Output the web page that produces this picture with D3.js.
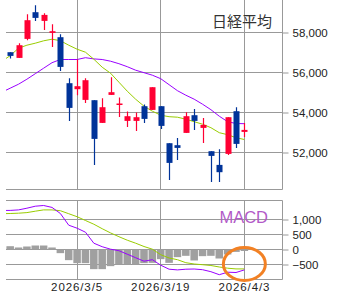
<!DOCTYPE html>
<html>
<head>
<meta charset="utf-8">
<script src="https://cdn.jsdelivr.net/npm/d3@7"></script>
<style>
body { margin: 0; background: #fff; }
</style>
</head>
<body>
<svg width="338" height="297"></svg>
<script>
// trading days (first one is only used by the moving lines, it sits left of the plot)
const dates = ["2026/2/19","2026/2/20","2026/2/24","2026/2/25","2026/2/26","2026/2/27","2026/3/2","2026/3/3","2026/3/4",
    "2026/3/5","2026/3/6","2026/3/9","2026/3/10","2026/3/11","2026/3/12","2026/3/13","2026/3/16","2026/3/17","2026/3/18",
    "2026/3/19","2026/3/23","2026/3/24","2026/3/25","2026/3/26","2026/3/27","2026/3/30","2026/3/31","2026/4/1","2026/4/2","2026/4/3"];
const openVals  = [null,57015,56730,57680,59015,58580,57980,57765,55465,55165,54630,54615,53480,54880,54380,53580,53580,54315,54130,54315,52465,52365,52980,53865,53230,52065,51380,51930,54065,53030];
const highVals  = [null,57015,57465,58915,59365,58965,58415,57915,55715,56650,55715,54615,54715,55765,54750,54050,54000,54400,55265,54315,52465,52730,54015,54180,53730,52065,52165,53765,54265,53480];
const lowVals   = [null,56700,56730,57615,58580,58130,57280,56080,53580,54865,54480,51380,53480,54880,53780,53280,53080,53480,54130,53180,50630,51630,52980,53130,52480,50530,50530,51880,52230,52780];
const closeVals = [null,56830,57365,58615,58730,58880,58065,56280,54230,55315,55615,52680,54265,55015,54450,53815,53765,53680,55265,53330,51480,52230,53815,53580,53380,51830,51015,53765,52430,53130];
const ma5  = [56565,56840,57215,57365,57465,57585,57665,57590,57365,57165,57015,56665,56265,55965,55515,55065,54665,54315,54065,53865,53790,53765,53665,53540,53415,53240,52990,52890,52740,52650];
const ma25 = [55015,55215,55415,55665,55940,56215,56490,56650,56650,56650,56740,56680,56650,56565,56440,56290,56115,55990,55865,55690,55390,55090,54865,54665,54415,54140,53815,53540,53450,53440];
const macd   = [1300,1303,1320,1377,1443,1467,1403,1200,810,710,577,210,93,10,-40,-157,-273,-390,-340,-523,-657,-680,-657,-650,-673,-740,-840,-757,-767,-680];
const signal = [1193,1200,1210,1230,1277,1320,1320,1293,1193,1093,967,843,693,553,427,310,210,100,10,-173,-283,-340,-440,-483,-507,-533,-583,-623,-647,-647];
const hist   = [110,110,67,100,133,133,67,-122,-355,-455,-455,-655,-655,-555,-500,-500,-500,-455,-445,-322,-445,-255,-211,-366,-222,-211,-300,-166,-80,-50];
const priceTicks = [58000, 56000, 54000, 52000];
const macdTicks = [1000, 500, 0, -500];
const dateTicks = ["2026/3/5", "2026/3/19", "2026/4/3"];

const left = 6, right = 282;
const mainTop = 0, mainBottom = 189.5;
const subTop = 200.5, subBottom = 279.5;
const gridColor = "#999";
const upColor = "#ff0033", downColor = "#003399";

const svg = d3.select("svg");

// x: one slot per trading day, index 0 = 2/19
const xscale = d3.scaleLinear().domain([0.5, 33.5]).range([left, right]);
const yscale = d3.scaleLinear().domain([58000, 52000]).range([32.5, 152.5]);
const mscale = d3.scaleLinear().domain([1000, -500]).range([219.5, 264.5]);
const slot = xscale(1) - xscale(0);

const data = dates.map((d, i) => ({
    i: i, date: d, open: openVals[i], high: highVals[i], low: lowVals[i], close: closeVals[i],
    ma5: ma5[i], ma25: ma25[i], macd: macd[i], signal: signal[i], hist: hist[i]
}));
const candles = data.filter(d => d.open != null);

//Clip areas
const defs = svg.append("defs");
defs.append("clipPath").attr("id", "clipMain").append("rect")
    .attr("x", left).attr("y", mainTop).attr("width", right - left).attr("height", mainBottom - mainTop);
defs.append("clipPath").attr("id", "clipSub").append("rect")
    .attr("x", left).attr("y", subTop).attr("width", right - left).attr("height", subBottom - subTop);

//Grid
const grid = svg.append("g").attr("stroke", gridColor).attr("stroke-width", 1);
priceTicks.forEach(v => grid.append("line")
    .attr("x1", left).attr("x2", right).attr("y1", yscale(v)).attr("y2", yscale(v)));
grid.append("line").attr("x1", left).attr("x2", right + 0.5).attr("y1", mainBottom).attr("y2", mainBottom);
macdTicks.forEach(v => grid.append("line")
    .attr("x1", left).attr("x2", right).attr("y1", mscale(v)).attr("y2", mscale(v)));
grid.append("line").attr("x1", left).attr("x2", right + 0.5).attr("y1", subTop).attr("y2", subTop);
grid.append("line").attr("x1", left).attr("x2", right + 0.5).attr("y1", subBottom).attr("y2", subBottom);
dateTicks.forEach(d => {
    const x = Math.floor(xscale(dates.indexOf(d))) + 0.5;
    grid.append("line").attr("x1", x).attr("x2", x).attr("y1", mainTop).attr("y2", mainBottom);
    grid.append("line").attr("x1", x).attr("x2", x).attr("y1", subTop).attr("y2", subBottom);
});
grid.append("line").attr("x1", right + 0.5).attr("x2", right + 0.5).attr("y1", mainTop).attr("y2", mainBottom);
grid.append("line").attr("x1", right + 0.5).attr("x2", right + 0.5).attr("y1", subTop).attr("y2", subBottom);

//Axes
const yaxis = d3.axisRight(yscale).tickValues(priceTicks).tickSize(6).tickPadding(4).tickFormat(d3.format(","));
const maxis = d3.axisRight(mscale).tickValues(macdTicks).tickSize(6).tickPadding(4).tickFormat(d3.format(","));
[[yaxis], [maxis]].forEach(([ax]) => {
    const g = svg.append("g").attr("transform", `translate(${right + 0.5}, 0)`).call(ax);
    g.select(".domain").remove();
    g.selectAll(".tick line").attr("stroke", gridColor);
    g.selectAll(".tick text").attr("font-family", "Liberation Sans, Arial, sans-serif")
        .attr("font-size", 11.5).attr("fill", "#222");
});

svg.append("g").selectAll("text").data(dateTicks).enter().append("text")
    .attr("x", d => xscale(dates.indexOf(d)))
    .attr("y", 291)
    .attr("text-anchor", "middle")
    .attr("font-family", "Liberation Sans, Arial, sans-serif")
    .attr("font-size", 11.5)
    .attr("letter-spacing", 0.9)
    .attr("fill", "#222")
    .text(d => d);

//Candles
const main = svg.append("g").attr("clip-path", "url(#clipMain)");
const lineMain = key => d3.line().x(d => xscale(d.i)).y(d => yscale(d[key]));
main.append("path").datum(data).attr("d", lineMain("ma25"))
    .attr("fill", "none").attr("stroke", "#9900ff").attr("stroke-width", 1);
main.append("path").datum(data).attr("d", lineMain("ma5"))
    .attr("fill", "none").attr("stroke", "#99cc00").attr("stroke-width", 1);

const candle = main.append("g").selectAll("g").data(candles).enter().append("g")
    .attr("fill", d => d.close >= d.open ? upColor : downColor)
    .attr("stroke", d => d.close >= d.open ? upColor : downColor);
candle.append("line")
    .attr("x1", d => Math.round(xscale(d.i)) + 0.5)
    .attr("x2", d => Math.round(xscale(d.i)) + 0.5)
    .attr("y1", d => yscale(d.high))
    .attr("y2", d => yscale(d.low))
    .attr("stroke-width", 1.2);
candle.append("rect")
    .attr("x", d => Math.round(xscale(d.i)) - 2.5)
    .attr("width", 6)
    .attr("y", d => yscale(Math.max(d.open, d.close)))
    .attr("height", d => Math.max(1.5, Math.abs(yscale(d.open) - yscale(d.close))))
    .attr("stroke", "none");

//MACD
const sub = svg.append("g").attr("clip-path", "url(#clipSub)");
sub.append("g").selectAll("rect").data(data).enter().append("rect")
    .attr("x", d => xscale(d.i) - slot * 0.45)
    .attr("width", slot * 0.9)
    .attr("y", d => Math.min(mscale(d.hist), mscale(0)))
    .attr("height", d => Math.abs(mscale(d.hist) - mscale(0)))
    .attr("fill", "#a0a0a0");
const lineSub = key => d3.line().x(d => xscale(d.i)).y(d => mscale(d[key]));
sub.append("path").datum(data).attr("d", lineSub("signal"))
    .attr("fill", "none").attr("stroke", "#99cc00").attr("stroke-width", 1);
sub.append("path").datum(data).attr("d", lineSub("macd"))
    .attr("fill", "none").attr("stroke", "#9900ff").attr("stroke-width", 1);

//Titles
svg.append("text")
    .attr("x", 272).attr("y", 27)
    .attr("text-anchor", "end")
    .attr("font-family", "Noto Sans CJK JP, sans-serif")
    .attr("font-size", 15)
    .attr("fill", "#333")
    .text("日経平均");
svg.append("text")
    .attr("x", 268).attr("y", 223)
    .attr("text-anchor", "end")
    .attr("font-family", "Liberation Sans, Arial, sans-serif")
    .attr("font-size", 16.5)
    .attr("fill", "#b25ac8")
    .text("MACD");

//Orange mark round the last MACD values
const last = data[data.length - 1];
svg.append("ellipse")
    .attr("cx", xscale(last.i))
    .attr("cy", mscale(last.macd) - 6)
    .attr("rx", 21)
    .attr("ry", 16.5)
    .attr("fill", "none")
    .attr("stroke", "#f28124")
    .attr("stroke-width", 3);
</script>
</body>
</html>
